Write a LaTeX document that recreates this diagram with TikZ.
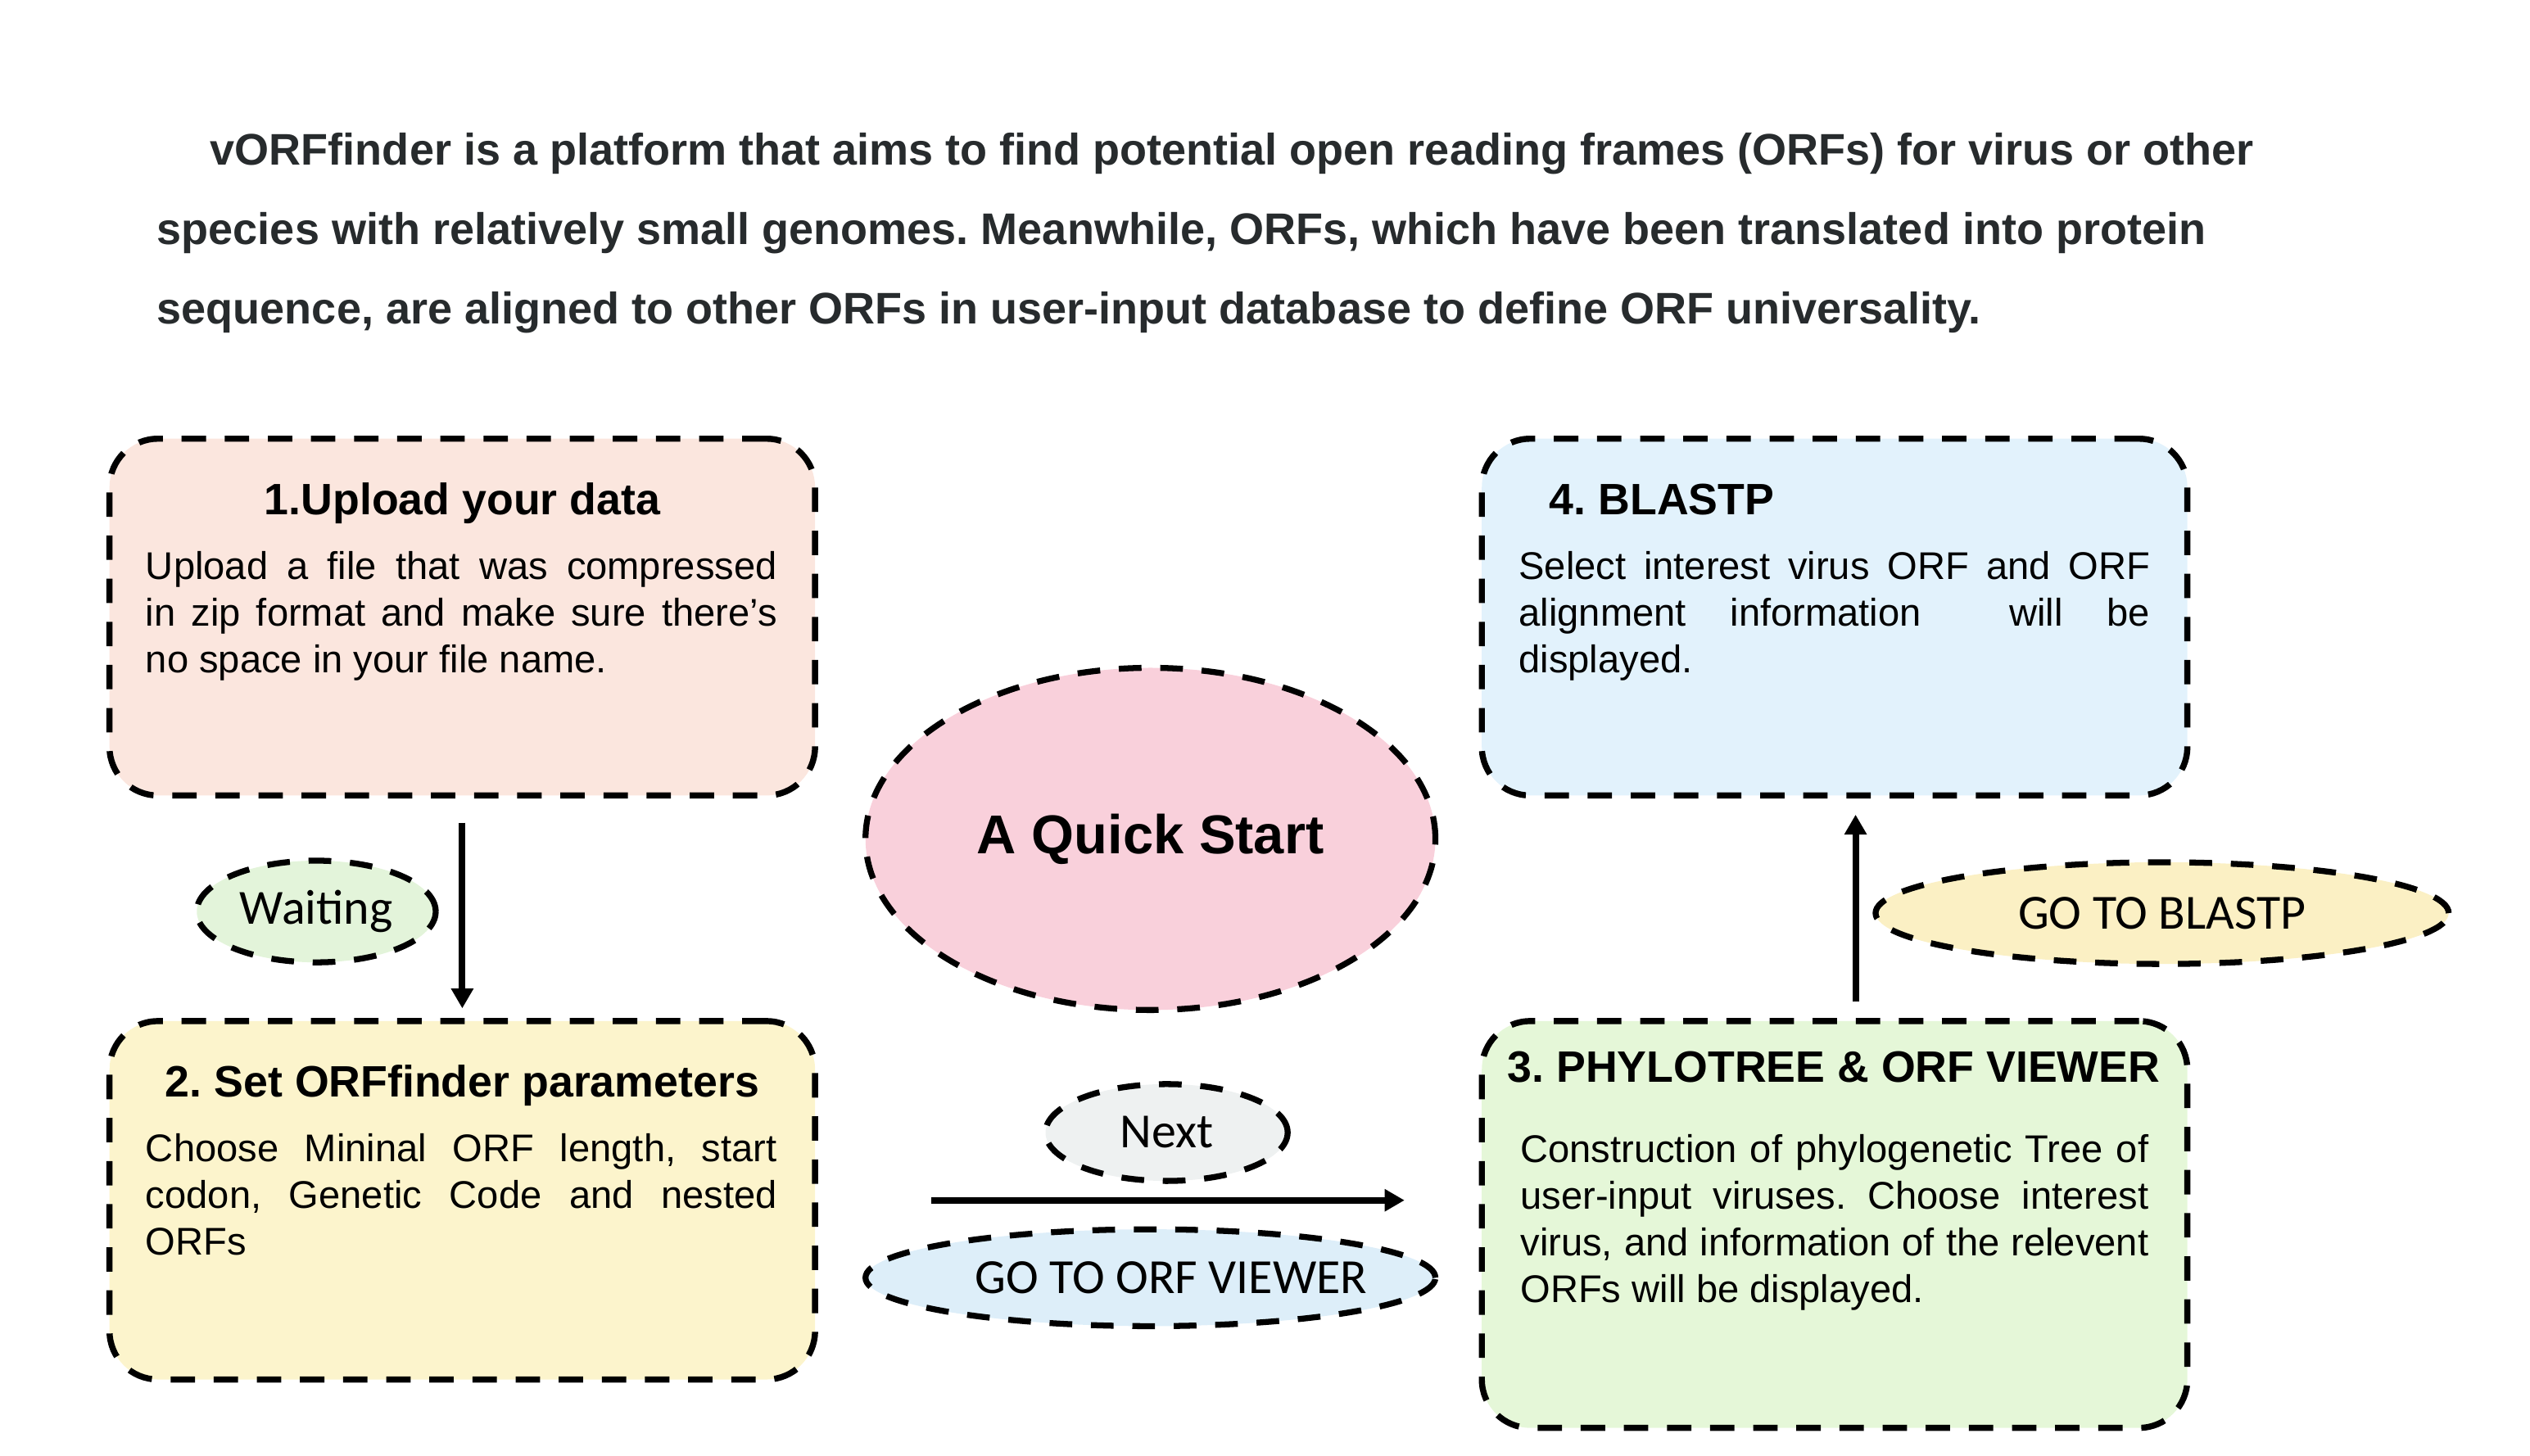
\documentclass[tikz,border=0pt]{standalone}
\usepackage{fontspec}
\setmainfont{Liberation Sans}
\newfontfamily\calfont{Carlito}
\usetikzlibrary{arrows.meta}
\usetikzlibrary{shapes.geometric}
\frenchspacing

\definecolor{introText}{HTML}{272B2D}
\definecolor{uploadFill}{HTML}{FBE6DE}
\definecolor{paramFill}{HTML}{FCF4CC}
\definecolor{viewerFill}{HTML}{E5F7D8}
\definecolor{blastFill}{HTML}{E2F2FC}
\definecolor{startFill}{HTML}{F9D0DB}
\definecolor{waitFill}{HTML}{E3F4DA}
\definecolor{nextFill}{HTML}{EEF1F1}
\definecolor{goViewFill}{HTML}{DDEEF9}
\definecolor{goBlastFill}{HTML}{FBF0C4}

\begin{document}
\begin{tikzpicture}[x = 0.01cm, y = -0.01cm]
	\tikzstyle{boxStyle} = [shape = rectangle, rounded corners = 0.6cm, draw, line width = 2.15pt, dash pattern = on 8.6pt off 6.6pt, minimum width = 8.74cm, inner sep = 0pt]
	\tikzstyle{ovalStyle} = [shape = ellipse, draw, line width = 2.1pt, dash pattern = on 8pt off 6.6pt, inner sep = 0pt, font = \calfont\fontsize{17.3}{20}\selectfont]
	\tikzstyle{titleStyle} = [inner sep = 0pt, font = \bfseries\fontsize{15.5}{18}\selectfont]
	\tikzstyle{bodyStyle} = [inner sep = 0pt, text width = 7.82cm, align = justify, font = \fontsize{13.6}{16.5}\selectfont]
	\tikzstyle{arrowStyle} = [line width = 2.3pt, -{Triangle[length = 7pt, width = 7.5pt]}]
	\useasboundingbox (0,0) rectangle (3136,1805);
	\node[inner sep = 0pt, anchor = north west, align = left, text = introText, font = \bfseries\fontsize{15.6}{28}\selectfont] (intro) at (194,164) {\hspace*{0.66cm}vORFfinder is a platform that aims to find potential open reading frames (ORFs) for virus or other\\species with relatively small genomes. Meanwhile, ORFs, which have been translated into protein\\sequence, are aligned to other ORFs in user-input database to define ORF universality.};
	\node[boxStyle, fill = uploadFill, minimum height = 4.42cm] (box1) at (573,765) {};
	\node[titleStyle, anchor = base] (title1) at (573,638) {1.Upload your data};
	\node[bodyStyle, anchor = base west] (body1) at (180,718) {Upload a file that was compressed\linebreak in zip format and make sure there's\linebreak no space in your file name.};
	\node[boxStyle, fill = paramFill, minimum height = 4.44cm] (box2) at (573,1488) {};
	\node[titleStyle, anchor = base] (title2) at (573,1360) {2. Set ORFfinder parameters};
	\node[bodyStyle, anchor = base west] (body2) at (180,1440) {Choose Mininal ORF length, start\linebreak codon, Genetic Code and nested\linebreak ORFs};
	\node[boxStyle, fill = blastFill, minimum height = 4.42cm] (box4) at (2274,765) {};
	\node[titleStyle, anchor = base west] (title4) at (1920,638) {4. BLASTP};
	\node[bodyStyle, anchor = base west] (body4) at (1882,718) {Select interest virus ORF and ORF\linebreak alignment information\ \ will be\linebreak displayed.};
	\node[boxStyle, fill = viewerFill, minimum height = 5.04cm] (box3) at (2274,1518) {};
	\node[titleStyle, anchor = base west] (title3) at (1868,1342) {3. PHYLOTREE \& ORF VIEWER};
	\node[bodyStyle, text width = 7.78cm, anchor = base west] (body3) at (1884,1441) {Construction of phylogenetic Tree of\linebreak user-input viruses. Choose interest\linebreak virus, and information of the relevent\linebreak ORFs will be displayed.};
	\node[ovalStyle, fill = startFill, minimum width = 7.06cm, minimum height = 4.24cm, font = \bfseries\fontsize{19.3}{22}\selectfont] (start) at (1426,1040) {A Quick Start};
	\node[ovalStyle, fill = waitFill, minimum width = 2.96cm, minimum height = 1.26cm] (wait) at (392,1130) {Waiting};
	\node[ovalStyle, fill = nextFill, minimum width = 3cm, minimum height = 1.2cm] (next) at (1446,1404) {Next};
	\node[ovalStyle, fill = goViewFill, minimum width = 7.06cm, minimum height = 1.2cm] (goView) at (1426,1584) {\hspace*{0.26cm}\makebox[4.6cm][l]{GO TO ORF VIEWER}};
	\node[ovalStyle, fill = goBlastFill, minimum width = 7.1cm, minimum height = 1.26cm] (goBlast) at (2680,1132) {GO TO BLASTP};
	\draw[arrowStyle, shorten <= 0.3cm, shorten >= 0.12cm] (box1) -- (box2);
	\draw[arrowStyle, shorten <= 1.4cm, shorten >= 0.92cm] (box2.east) -- (box2.east -| box3.west);
	\draw[arrowStyle, shorten <= 0.2cm, shorten >= 0.2cm] ([xshift = 0.26cm]box3.north) -- ([xshift = 0.26cm]box4.south);
\end{tikzpicture}
\end{document}
